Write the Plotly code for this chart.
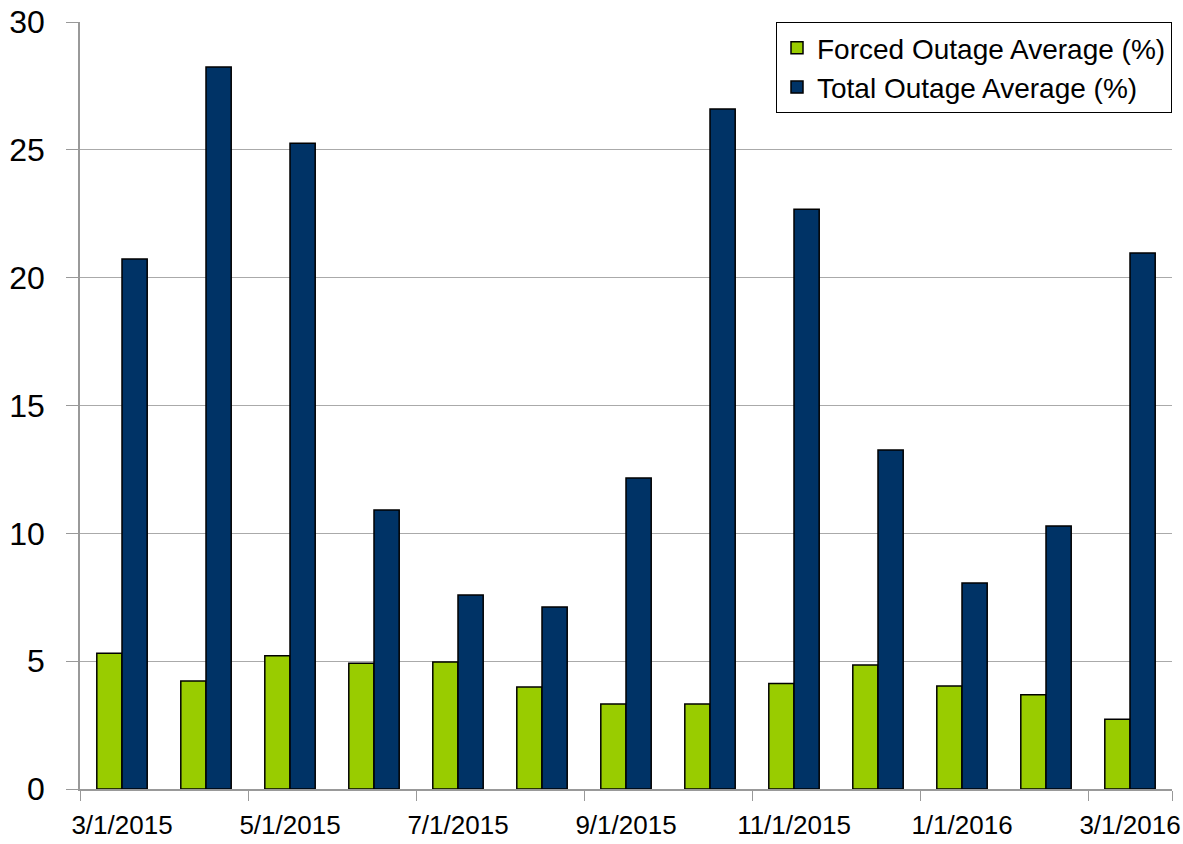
import plotly.graph_objects as go

months = ["3/1/2015", "4/1/2015", "5/1/2015", "6/1/2015", "7/1/2015", "8/1/2015",
          "9/1/2015", "10/1/2015", "11/1/2015", "12/1/2015", "1/1/2016", "2/1/2016", "3/1/2016"]
forced = [5.31, 4.22, 5.21, 4.92, 4.97, 3.99, 3.32, 3.32, 4.13, 4.85, 4.03, 3.69, 2.73]
total = [20.73, 28.24, 25.26, 10.91, 7.59, 7.12, 12.16, 26.60, 22.68, 13.26, 8.06, 10.29, 20.96]
y_ticks = [0, 5, 10, 15, 20, 25, 30]

FONT = "Liberation Sans, Arial, sans-serif"

fig = go.Figure()
fig.add_trace(go.Bar(x=months, y=forced, name="Forced Outage Average (%)",
                     marker=dict(color="#99CC00", line=dict(color="#000000", width=1.5))))
fig.add_trace(go.Bar(x=months, y=total, name="Total Outage Average (%)",
                     marker=dict(color="#003366", line=dict(color="#000000", width=1.5))))

fig.update_layout(
    width=1183, height=844,
    margin=dict(l=80, r=11, t=22, b=55),
    paper_bgcolor="white", plot_bgcolor="white",
    barmode="group", bargap=0.4, bargroupgap=0,
    font=dict(family=FONT, color="#000000"),
    legend=dict(x=1, xanchor="right", y=1, yanchor="top",
                bordercolor="#000000", borderwidth=1, bgcolor="white",
                font=dict(size=28, family=FONT), tracegroupgap=0,
                itemwidth=30),
    xaxis=dict(type="category", tickmode="array", tickvals=months[::2],
               tickson="boundaries", ticks="outside", ticklen=10, tickcolor="#999999",
               showline=True, linecolor="#999999", linewidth=1.5,
               showgrid=False, tickfont=dict(size=26, family=FONT),
               tickangle=0, ticklabelstandoff=12, automargin=False, fixedrange=True),
    yaxis=dict(range=[0, 30], tickvals=y_ticks, ticks="outside", ticklen=12,
               tickcolor="#999999", showline=True, linecolor="#999999", linewidth=1.5,
               showgrid=True, gridcolor="#aaaaaa", gridwidth=1.2,
               zeroline=False, tickfont=dict(size=32, family=FONT),
               ticklabelstandoff=15, automargin=False),
)

fig.write_html("out.html", config={"displayModeBar": False},
               post_script="document.body.style.margin='0';document.body.style.overflow='hidden';")
